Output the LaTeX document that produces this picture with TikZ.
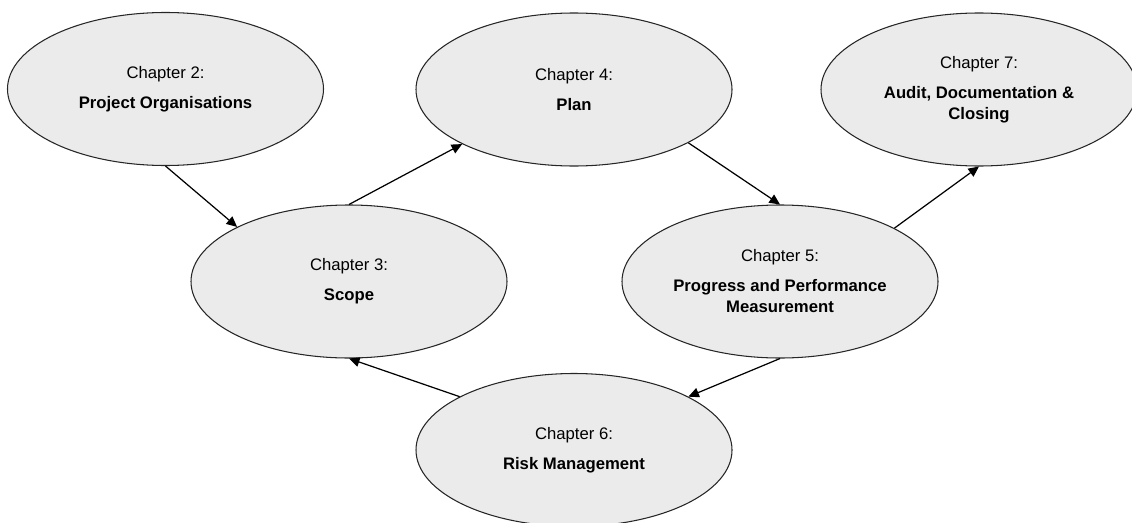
\documentclass[tikz,border=0pt]{standalone}
\usepackage{fontspec}
\setmainfont{Liberation Sans}
\usetikzlibrary{shapes.geometric,arrows.meta}
\definecolor{chapfill}{RGB}{235,235,235}
\newcommand\ChapText[2]{Chapter #1:\\[5pt]\textbf{#2}}
\tikzset{
  chapter/.style={ellipse,draw=black!85,line width=0.6pt,fill=chapfill,
    minimum width=6.32cm,minimum height=3.06cm,inner sep=0pt,align=center,
    font=\fontsize{9.5}{12}\selectfont},
  flow/.style={-{Triangle[length=6pt,width=5.5pt]},line width=0.7pt}
}
\begin{document}
\begin{tikzpicture} % chapter overview

\useasboundingbox (0,0) rectangle (22.64,10.44);
\node[chapter] (ch2) at (3.31,8.66) {\ChapText{2}{Project Organisations}};
\node[chapter] (ch4) at (11.48,8.65) {\ChapText{4}{Plan}};
\node[chapter] (ch7) at (19.58,8.65)
  {Chapter 7:\\[5pt]\textbf{Audit, Documentation \&}\\\textbf{Closing}};
\node[chapter] (ch3) at (6.98,4.81) {\ChapText{3}{Scope}};
\node[chapter] (ch5) at (15.60,4.81)
  {Chapter 5:\\[5pt]\textbf{Progress and Performance}\\\textbf{Measurement}};
\node[chapter] (ch6) at (11.48,1.44) {\ChapText{6}{Risk Management}};
% connectors
\draw[flow] (ch2.south) -- (ch3.154);
\draw[flow] (ch3.north) -- (ch4.206);
\draw[flow] (ch4.335) -- (ch5.north);
\draw[flow] (ch5.25) -- (ch7.south);
\draw[flow] (ch5.south) -- (ch6.25);
\draw[flow] (ch6.155) -- (ch3.south);
\end{tikzpicture}
\end{document}
